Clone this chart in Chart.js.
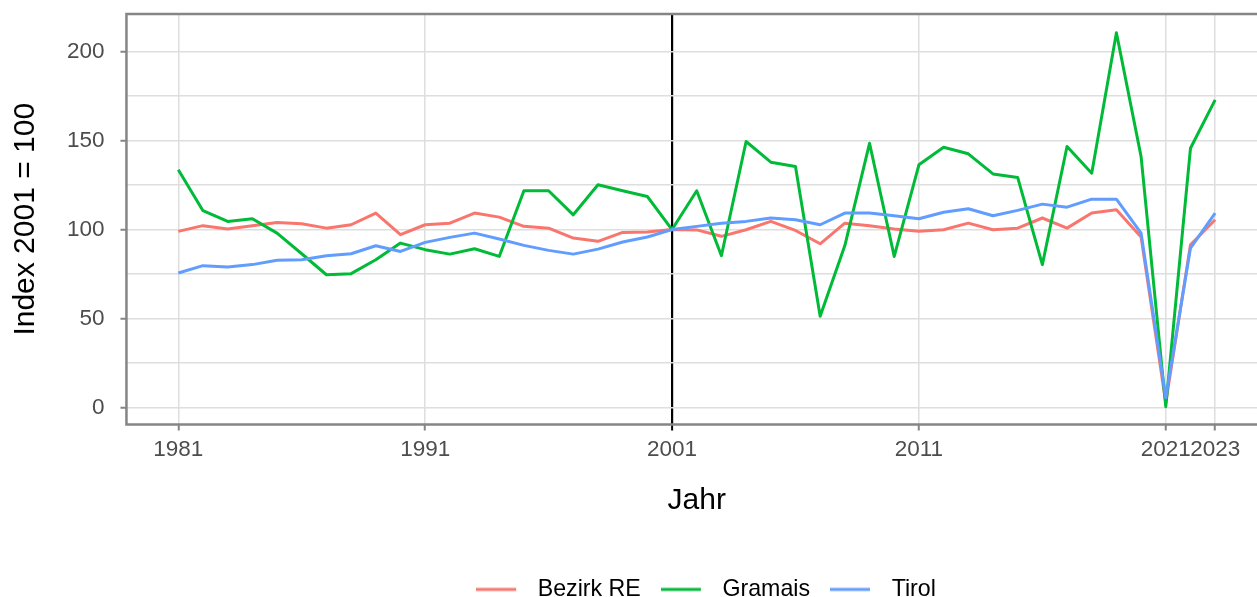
<!DOCTYPE html>
<html><head><meta charset="utf-8">
<script src="https://cdn.jsdelivr.net/npm/chart.js@4/dist/chart.umd.min.js"></script>
<style>
html,body{margin:0;padding:0;overflow:hidden;background:#fff;width:1257px;height:597px}
#wrap{position:absolute;left:0;top:0;width:1412px;height:597px}
</style></head>
<body><div id="wrap"><canvas id="c" width="1412" height="597"></canvas></div>
<script>
const years = [1981,1982,1983,1984,1985,1986,1987,1988,1989,1990,
  1991,1992,1993,1994,1995,1996,1997,1998,1999,2000,
  2001,2002,2003,2004,2005,2006,2007,2008,2009,2010,
  2011,2012,2013,2014,2015,2016,2017,2018,2019,2020,
  2021,2022,2023];
const bezirkRE = [99.0,102.2,100.3,102.2,104.0,103.3,100.8,102.7,109.3,97.1,
  102.7,103.6,109.3,107.0,101.8,100.8,95.2,93.4,98.4,98.6,
  100,99.8,96.2,99.9,104.6,99.5,92.0,103.6,102.2,100.3,
  99.0,99.9,103.6,99.9,100.8,106.5,100.8,109.3,111.1,95.8,
  2.6,91.5,105.5];
const gramais = [133.6,110.6,104.6,106.1,98.0,86.4,74.6,75.2,83.0,92.4,
  88.7,86.2,89.2,84.9,121.8,121.8,108.3,125.2,121.8,118.6,
  100,121.8,85.3,149.5,137.9,135.5,51.3,91.0,148.5,84.9,
  136.4,146.3,142.6,131.3,129.3,80.3,146.7,131.7,210.7,141.0,
  0.4,145.7,172.9];
const tirol = [75.6,79.7,79.0,80.3,82.7,83.0,85.3,86.4,90.9,87.7,
  92.8,95.6,98.0,94.7,91.1,88.3,86.2,89.0,93.0,95.8,
  100,101.8,103.6,104.6,106.5,105.5,102.7,109.3,109.3,107.8,
  106.1,109.7,111.7,107.8,110.8,114.3,112.6,117.1,117.1,98.0,
  5.4,89.6,109.3];
const seriesNames = ['Bezirk RE','Gramais','Tirol'];
const seriesColors = ['#F8766D','#00BA38','#619CFF'];
const xTickYears = [1981,1991,2001,2011,2021,2023];
const yTicks = [0,25,50,75,100,125,150,175,200];
const yLabelTicks = [0,50,100,150,200];
const refYear = 2001;
const xTitle = 'Jahr';
const yTitle = 'Index 2001 = 100';

Chart.defaults.font.family = "'Liberation Sans', Arial, sans-serif";

function swatch(color){
  const c = document.createElement('canvas');
  c.width = 50; c.height = 6;
  const g = c.getContext('2d');
  g.strokeStyle = color; g.lineWidth = 3;
  g.beginPath(); g.moveTo(0,3); g.lineTo(40,3); g.stroke();
  return c;
}
const swatches = seriesColors.map(swatch);

const seriesValues = [bezirkRE, gramais, tirol];
const datasets = seriesNames.map((name,i)=>({
  label: name,
  data: years.map((y,j)=>({x:y, y:seriesValues[i][j]})),
  borderColor: seriesColors[i],
  backgroundColor: seriesColors[i],
  borderWidth: 3,
  pointRadius: 0,
  tension: 0,
  borderJoinStyle: 'round',
  order: 2 - i
}));

const panelBorder = {
  id: 'panelBorder',
  afterDatasetsDraw(chart){
    const {ctx, chartArea:a} = chart;
    ctx.save();
    ctx.strokeStyle = '#858585';
    ctx.lineWidth = 2.5;
    ctx.strokeRect(a.left, a.top, a.right - a.left, a.bottom - a.top);
    ctx.restore();
  }
};

new Chart(document.getElementById('c'), {
  type: 'line',
  data: { datasets },
  plugins: [panelBorder],
  options: {
    responsive: false,
    animation: false,
    devicePixelRatio: 1,
    layout: { padding: { top: 14, left: 0, right: 0, bottom: -14 } },
    plugins: {
      tooltip: { enabled: false },
      legend: {
        position: 'bottom',
        labels: {
          usePointStyle: true,
          pointStyleWidth: 50,
          padding: 20,
          color: '#000',
          font: { size: 23.2 },
          sort: (a, b) => a.datasetIndex - b.datasetIndex,
          generateLabels(chart){
            const items = Chart.defaults.plugins.legend.labels.generateLabels(chart);
            items.forEach(it => { it.pointStyle = swatches[it.datasetIndex]; });
            return items;
          }
        }
      }
    },
    scales: {
      x: {
        type: 'linear',
        min: 1978.9,
        max: 2025.1,
        afterBuildTicks: s => { s.ticks = xTickYears.map(v => ({value: v})); },
        afterFit: s => { s.height = 133.3; s.paddingLeft = 0; s.paddingRight = 0; },
        ticks: {
          autoSkip: false, maxRotation: 0, minRotation: 0,
          color: '#4D4D4D', font: { size: 22.5 }, padding: 6,
          callback: v => String(v)
        },
        grid: {
          color: c => (c.tick && c.tick.value === refYear) ? '#000000' : '#DEDEDE',
          lineWidth: c => (c.tick && c.tick.value === refYear) ? 2.2 : 1.5,
          tickColor: c => (c.tick && c.tick.value === refYear) ? '#000000' : '#858585',
          tickLength: 6,
          tickWidth: 2
        },
        border: { display: false },
        title: {
          display: true, text: xTitle, color: '#000',
          font: { size: 30 }, padding: { top: 0, bottom: 39.5 }
        }
      },
      y: {
        type: 'linear',
        position: 'left',
        min: -9.6,
        max: 221.2,
        afterBuildTicks: s => { s.ticks = yTicks.map(v => ({value: v})); },
        afterFit: s => { s.width = 126.45; s.paddingTop = 0; s.paddingBottom = 0; },
        ticks: {
          color: '#4D4D4D', font: { size: 22.5 }, padding: 16,
          callback: v => yLabelTicks.includes(v) ? String(v) : ''
        },
        grid: {
          color: '#DEDEDE',
          lineWidth: 1.5,
          tickColor: c => (c.tick && yLabelTicks.includes(c.tick.value)) ? '#858585' : 'rgba(0,0,0,0)',
          tickLength: 6,
          tickWidth: 2
        },
        border: { display: false },
        title: {
          display: true, text: yTitle, color: '#000',
          font: { size: 30 }, padding: { top: 7.5, bottom: 0 }
        }
      },
      yRightMargin: {
        type: 'linear',
        position: 'right',
        min: -9.6,
        max: 221.2,
        afterFit: s => { s.width = 145; s.paddingTop = 0; s.paddingBottom = 0; },
        ticks: { display: false },
        grid: { display: false, drawOnChartArea: false, drawTicks: false },
        border: { display: false },
        title: { display: false }
      }
    }
  }
});
</script>
</body></html>
